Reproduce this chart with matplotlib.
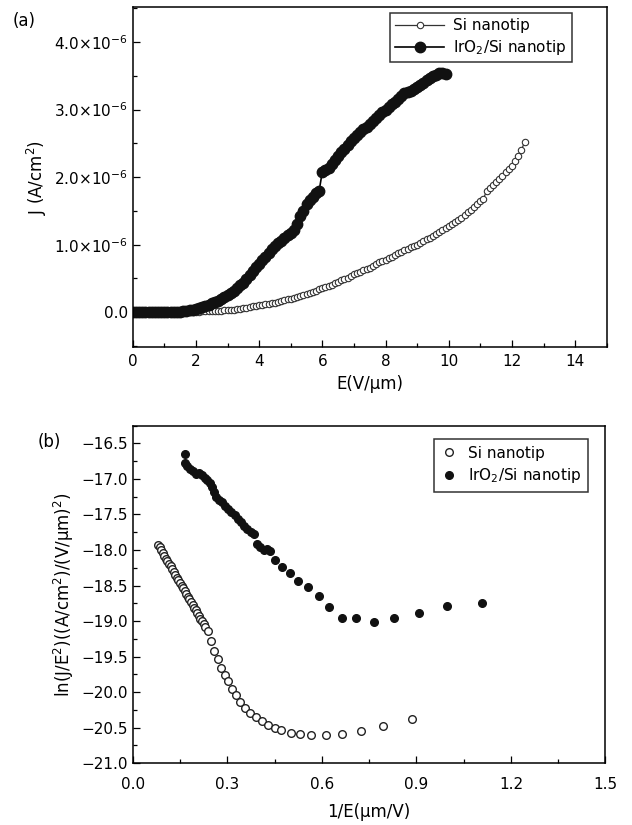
import numpy as np
import matplotlib
matplotlib.use("Agg")
import matplotlib.pyplot as plt
from matplotlib.ticker import MultipleLocator, FuncFormatter

plt.rcParams['font.family'] = ['DejaVu Sans']
plt.rcParams['mathtext.default'] = 'regular'

### (a) J-E curves, E step 0.1 V/um, J in units of 1e-6 A/cm2
E_si_start, E_si_stop, E_step = 0.0, 12.4, 0.1
J_si = [0.00, 0.00, 0.00, 0.00, 0.00, 0.00, 0.00, 0.00, 0.00, 0.00,
        0.00, 0.00, 0.00, 0.00, 0.00, 0.00, 0.00, 0.005, 0.005, 0.01,
        0.01, 0.01, 0.012, 0.015, 0.015, 0.02, 0.02, 0.022, 0.025, 0.03,
        0.03, 0.035, 0.04, 0.045, 0.05, 0.06, 0.065, 0.075, 0.085, 0.09,
        0.10, 0.11, 0.115, 0.12, 0.13, 0.14, 0.15, 0.165, 0.175, 0.19,
        0.20, 0.21, 0.225, 0.24, 0.255, 0.27, 0.29, 0.305, 0.32, 0.34,
        0.36, 0.375, 0.395, 0.41, 0.43, 0.45, 0.47, 0.49, 0.51, 0.54,
        0.56, 0.58, 0.60, 0.62, 0.64, 0.66, 0.69, 0.71, 0.74, 0.76,
        0.78, 0.80, 0.82, 0.85, 0.87, 0.89, 0.92, 0.94, 0.96, 0.98,
        1.00, 1.03, 1.05, 1.08, 1.10, 1.13, 1.16, 1.19, 1.22, 1.25,
        1.28, 1.31, 1.34, 1.37, 1.40, 1.44, 1.48, 1.52, 1.56, 1.60,
        1.64, 1.68, 1.80, 1.84, 1.88, 1.93, 1.98, 2.02, 2.07, 2.12,
        2.17, 2.24, 2.32, 2.40, 2.52]

E_ir_start, E_ir_stop = 0.0, 9.9
J_ir = [0.00, 0.00, 0.00, 0.00, 0.00, 0.00, 0.00, 0.00, 0.00, 0.00,
        0.00, 0.00, 0.005, 0.005, 0.01, 0.01, 0.015, 0.02, 0.03, 0.04,
        0.05, 0.06, 0.075, 0.09, 0.11, 0.13, 0.15, 0.17, 0.20, 0.23,
        0.26, 0.29, 0.32, 0.36, 0.40, 0.44, 0.49, 0.55, 0.61, 0.67,
        0.72, 0.77, 0.82, 0.87, 0.93, 0.98, 1.02, 1.06, 1.10, 1.14,
        1.18, 1.22, 1.30, 1.42, 1.50, 1.60, 1.66, 1.70, 1.76, 1.80,
        2.08, 2.10, 2.14, 2.20, 2.26, 2.32, 2.37, 2.42, 2.48, 2.54,
        2.58, 2.63, 2.67, 2.71, 2.75, 2.79, 2.83, 2.87, 2.92, 2.96,
        3.00, 3.04, 3.08, 3.12, 3.16, 3.20, 3.24, 3.26, 3.28, 3.30,
        3.33, 3.37, 3.40, 3.44, 3.47, 3.50, 3.52, 3.54, 3.55, 3.53]

### (b) F-N plot
fn_si_x = [0.081, 0.085, 0.090, 0.095, 0.100, 0.105, 0.110, 0.115, 0.120, 0.125,
           0.130, 0.135, 0.140, 0.145, 0.150, 0.155, 0.160, 0.165, 0.170, 0.175,
           0.180, 0.185, 0.190, 0.195, 0.200, 0.205, 0.210, 0.215, 0.220, 0.225,
           0.230, 0.239, 0.249, 0.259, 0.271, 0.281, 0.292, 0.303, 0.315, 0.328,
           0.341, 0.356, 0.373, 0.392, 0.411, 0.430, 0.450, 0.471, 0.501, 0.530,
           0.567, 0.612, 0.663, 0.724, 0.794, 0.885]
fn_si_y = [-17.93, -17.96, -18.00, -18.04, -18.08, -18.12, -18.15, -18.19, -18.23, -18.27,
           -18.31, -18.35, -18.39, -18.42, -18.46, -18.50, -18.54, -18.58, -18.62, -18.66,
           -18.69, -18.73, -18.77, -18.81, -18.85, -18.89, -18.93, -18.97, -19.00, -19.04,
           -19.08, -19.14, -19.28, -19.42, -19.54, -19.66, -19.76, -19.85, -19.95, -20.04,
           -20.14, -20.22, -20.29, -20.35, -20.41, -20.47, -20.50, -20.54, -20.57, -20.59,
           -20.60, -20.61, -20.59, -20.55, -20.48, -20.38]

fn_ir_x = [0.165, 0.166, 0.172, 0.181, 0.190, 0.201, 0.209, 0.220, 0.229, 0.236,
           0.244, 0.252, 0.258, 0.264, 0.273, 0.282, 0.292, 0.303, 0.313, 0.323,
           0.333, 0.344, 0.354, 0.364, 0.374, 0.384, 0.395, 0.405, 0.415, 0.425,
           0.435, 0.450, 0.474, 0.499, 0.526, 0.556, 0.590, 0.622, 0.664, 0.709,
           0.766, 0.830, 0.907, 0.996, 1.107]
fn_ir_y = [-16.65, -16.77, -16.82, -16.86, -16.89, -16.93, -16.91, -16.95, -16.98, -17.02,
           -17.05, -17.11, -17.19, -17.25, -17.29, -17.33, -17.38, -17.42, -17.47, -17.51,
           -17.56, -17.61, -17.66, -17.70, -17.74, -17.78, -17.91, -17.96, -18.00, -17.99,
           -18.01, -18.14, -18.24, -18.33, -18.44, -18.52, -18.65, -18.80, -18.96, -18.96,
           -19.02, -18.96, -18.88, -18.79, -18.75]

E_si = np.round(np.arange(E_si_start, E_si_stop + E_step / 2, E_step), 2)
E_ir = np.round(np.arange(E_ir_start, E_ir_stop + E_step / 2, E_step), 2)
J_si = np.array(J_si) * 1e-6
J_ir = np.array(J_ir) * 1e-6

FS = 11
fig = plt.figure(figsize=(6.32, 8.25), dpi=100)
ax1 = fig.add_axes([0.210, 0.579, 0.750, 0.4125])
ax2 = fig.add_axes([0.210, 0.075, 0.748, 0.409])

def style_axis(ax):
    for s in ax.spines.values():
        s.set_linewidth(1.1)
    ax.tick_params(which='both', direction='in', labelsize=FS, width=0.9)
    ax.tick_params(which='major', length=5)
    ax.tick_params(which='minor', length=3)

# panel (a)
ax1.plot(E_si, J_si, '-o', color='#333333', lw=0.9, ms=4.6, mfc='white',
         mec='#333333', mew=0.8, label='Si nanotip')
ax1.plot(E_ir, J_ir, '-o', color='black', lw=1.2, ms=7.5, mfc='#111111',
         mec='#111111', label='IrO$_2$/Si nanotip')
ax1.set_xlim(0, 15)
ax1.set_ylim(-0.52e-6, 4.52e-6)
ax1.xaxis.set_major_locator(MultipleLocator(2))
ax1.xaxis.set_minor_locator(MultipleLocator(1))
ax1.yaxis.set_major_locator(MultipleLocator(1e-6))
ax1.yaxis.set_minor_locator(MultipleLocator(0.5e-6))

def sci_fmt(v, pos):
    n = round(v / 1e-6, 1)
    if abs(n) < 1e-9:
        return '0.0'
    return '%.1f$\\times$10$^{-6}$' % n

ax1.yaxis.set_major_formatter(FuncFormatter(sci_fmt))
style_axis(ax1)
ax1.tick_params(axis='x', pad=5)
ax1.set_xlabel('E(V/\u03bcm)', fontsize=FS + 1, labelpad=4)
ax1.set_ylabel('J (A/cm$^2$)', fontsize=FS + 1, labelpad=4)
leg1 = ax1.legend(loc='upper right', bbox_to_anchor=(0.926, 0.982), fontsize=FS,
                  handlelength=3.2, frameon=True, fancybox=False, borderaxespad=0,
                  borderpad=0.35, labelspacing=0.3, handletextpad=0.6)
leg1.get_frame().set_edgecolor('black')
leg1.get_frame().set_linewidth(1.1)
fig.text(0.02, 0.975, '(a)', fontsize=FS + 1, ha='left', va='center')

# panel (b)
ax2.plot(fn_si_x, fn_si_y, 'o', ms=5.5, mfc='white', mec='#222222', mew=1.0,
         label='Si nanotip', ls='none')
ax2.plot(fn_ir_x, fn_ir_y, 'o', ms=5.5, mfc='#111111', mec='#111111',
         label='IrO$_2$/Si nanotip', ls='none')
ax2.set_xlim(0, 1.5)
ax2.set_ylim(-21.0, -16.25)
ax2.xaxis.set_major_locator(MultipleLocator(0.3))
ax2.xaxis.set_minor_locator(MultipleLocator(0.15))
ax2.yaxis.set_major_locator(MultipleLocator(0.5))
ax2.yaxis.set_minor_locator(MultipleLocator(0.25))
ax2.xaxis.set_major_formatter(FuncFormatter(lambda v, p: '%.1f' % v))
ax2.yaxis.set_major_formatter(FuncFormatter(lambda v, p: '\u2212%.1f' % abs(v)))
style_axis(ax2)
ax2.tick_params(axis='x', pad=10)
ax2.set_xlabel('1/E(\u03bcm/V)', fontsize=FS + 1, labelpad=8)
ax2.set_ylabel('ln(J/E$^2$)((A/cm$^2$)/(V/\u03bcm)$^2$)', fontsize=FS + 1, labelpad=4)
leg2 = ax2.legend(loc='upper right', bbox_to_anchor=(0.964, 0.961), fontsize=FS,
                  handlelength=1.0, frameon=True, fancybox=False, borderaxespad=0,
                  borderpad=0.45, labelspacing=0.35, handletextpad=0.8)
leg2.get_frame().set_edgecolor('black')
leg2.get_frame().set_linewidth(1.1)
fig.text(0.06, 0.464, '(b)', fontsize=FS + 1, ha='left', va='center')

fig.savefig('out.png', dpi=100, facecolor='white')
